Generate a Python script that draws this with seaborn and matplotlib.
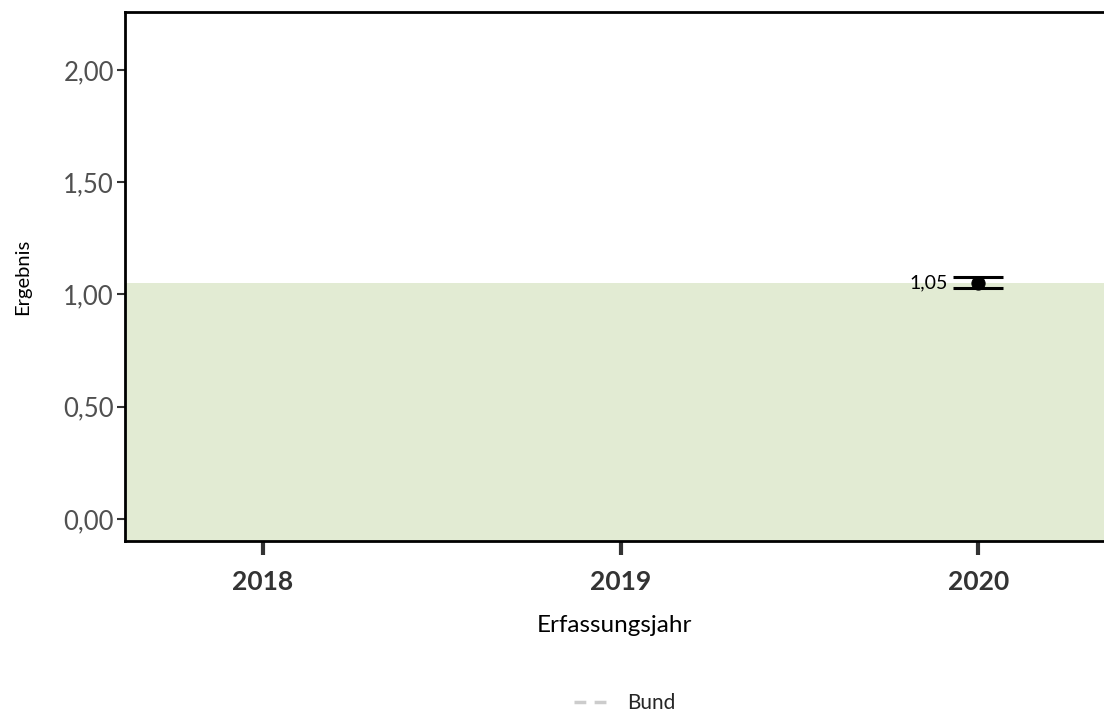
import pandas as pd
import seaborn as sns
from matplotlib import pyplot as plt
from matplotlib.lines import Line2D

years = [2018, 2019, 2020]
year_labels = ["2018", "2019", "2020"]
result_years = [2020]
result_values = [1.05]
ci_lower = [1.03]
ci_upper = [1.08]
value_labels = ["1,05"]
reference_area = (0.0, 1.05)
y_ticks = [0.0, 0.5, 1.0, 1.5, 2.0]
y_tick_labels = ["0,00", "0,50", "1,00", "1,50", "2,00"]

sns.set_theme(style="white")
plt.rcParams["font.family"] = ["Lato", "DejaVu Sans"]

fig = plt.figure(figsize=(11.04, 7.13), dpi=100)
ax = fig.add_axes([0.1132, 0.2412, 0.8868, 0.742])

df = pd.DataFrame({"Erfassungsjahr": result_years, "Ergebnis": result_values})

# green reference area up to the result value
ax.axhspan(-0.2, reference_area[1], color="#e2ebd3", zorder=0, lw=0)

sns.scatterplot(data=df, x="Erfassungsjahr", y="Ergebnis", color="black",
                s=90, edgecolor="black", zorder=4, ax=ax, legend=False)
ax.hlines(ci_lower + ci_upper, [y - 0.07 for y in result_years * 2],
          [y + 0.07 for y in result_years * 2], color="black", lw=2.2, zorder=3)
for x, y, lab in zip(result_years, result_values, value_labels):
    ax.text(x - 0.085, y, lab, ha="right", va="center", fontsize=14, color="black")

ax.set_xlim(2017.614, 2020.352)
ax.set_ylim(-0.098, 2.258)
ax.set_xticks(years)
ax.set_xticklabels(year_labels, fontweight="bold", fontsize=19, color="#333333")
ax.set_yticks(y_ticks)
ax.set_yticklabels(y_tick_labels, fontsize=18.5, color="#505050")
ax.tick_params(axis="x", direction="out", length=10, width=3, color="#333333", pad=11, bottom=True)
ax.tick_params(axis="y", direction="out", length=6, width=1.5, color="#333333", pad=2, left=True)

ax.set_xlabel("Erfassungsjahr", fontsize=17.5, labelpad=15, color="black")
ax.set_ylabel("Ergebnis", fontsize=14.5, labelpad=23, color="black")

ax.spines["right"].set_visible(False)
for side in ["left", "bottom", "top"]:
    ax.spines[side].set_color("black")
    ax.spines[side].set_linewidth(2)

handle = Line2D([], [], color="#cccccc", lw=2.5, ls=(0, (3.4, 2.4)))
fig.legend([handle], ["Bund"], loc="center", bbox_to_anchor=(0.566, 0.014),
           frameon=False, fontsize=15, handlelength=1.55, handletextpad=1.0)

fig.savefig("out.png", dpi=100)
